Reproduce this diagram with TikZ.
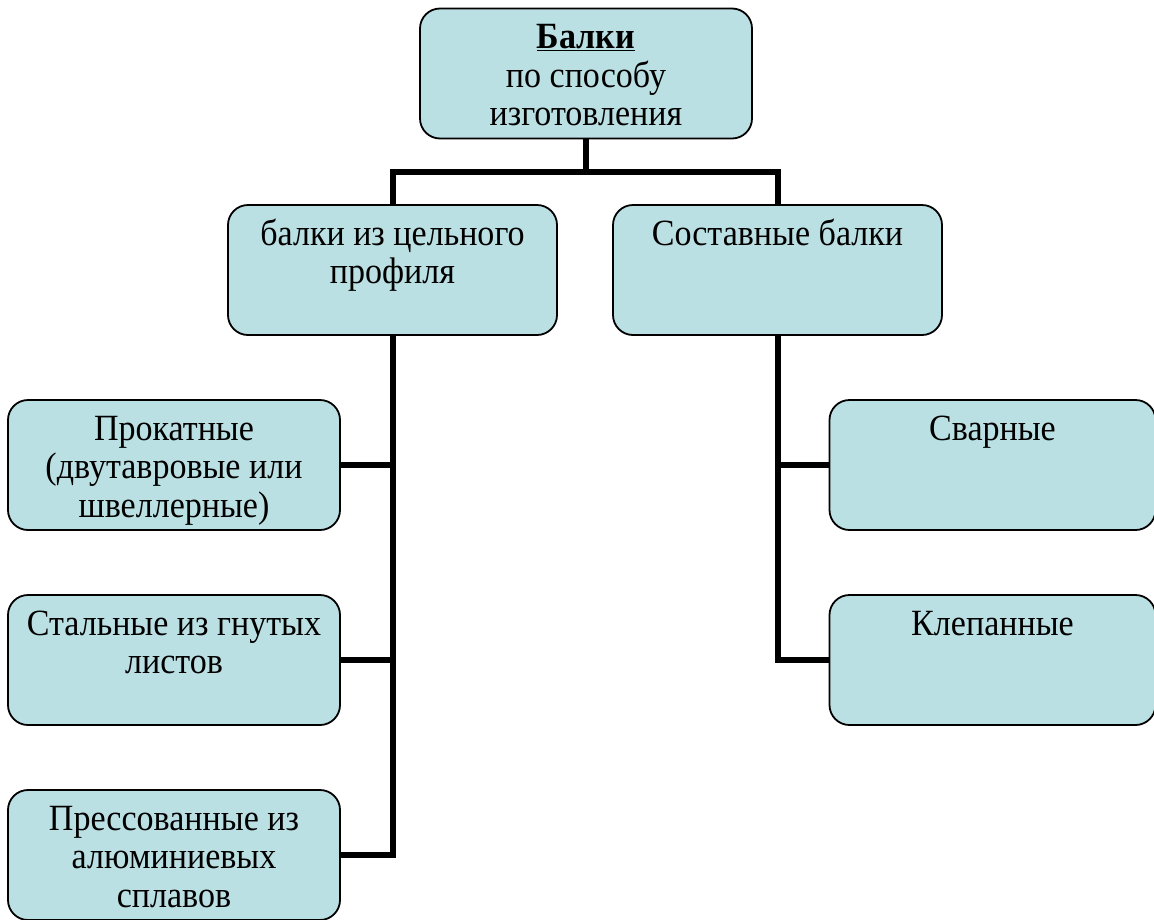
\documentclass[tikz,border=0pt]{standalone}
\usepackage{fontspec}
\setmainfont{Liberation Serif}[FakeStretch=0.92]
\usepackage{tikz}
\usetikzlibrary{positioning,calc}
\definecolor{colorbox}  {RGB}{187,224,227}
\definecolor{colorline} {RGB}{  0,  0,  0}
\newcommand{\boxtext}[1]{\parbox[t][122pt][t]{318pt}{\centering\rule{0pt}{36pt}#1}}

\begin{document}
\begin{tikzpicture}[
    x=1pt, y=-1pt,
    box/.style={draw=colorline, line width=1.8pt, rounded corners=20pt, fill=colorbox,
        minimum width=330pt, minimum height=130pt, inner sep=4pt,
        font={\fontsize{37pt}{38.5pt}\selectfont}},
    link/.style={draw=colorline, line width=6pt}
]
    \useasboundingbox (0,0) rectangle (1154,919);
    \clip (0,0) rectangle (1154,919);

    % Top
    \node[box, minimum width=332pt] (top) at (586,73.5) {\boxtext{\underline{\textbf{Балки}}\\по способу\\изготовления}};

    % Second level
    \node[box, minimum width=329pt] (solid) at (392.5,270) {\boxtext{балки из цельного\\профиля}};
    \node[box, minimum width=329pt] (built) at (777.5,270) {\boxtext{Составные балки}};

    % Left children
    \node[box, minimum width=332pt] (rolled) at (174,465) {\boxtext{Прокатные\\(двутавровые или\\швеллерные)}};
    \node[box, minimum width=332pt] (bent) at (174,660) {\boxtext{Стальные из гнутых\\листов}};
    \node[box, minimum width=332pt] (pressed) at (174,855) {\boxtext{Прессованные из\\алюминиевых\\сплавов}};

    % Right children
    \node[box, minimum width=321pt] (welded) at (992.5,465) {\boxtext{Сварные}};
    \node[box, minimum width=321pt] (riveted) at (992.5,660) {\boxtext{Клепанные}};

    % Links from top
    \draw[link] (top.south) -- ++(0,33) coordinate (fork);
    \draw[link] (fork) -| (solid.north);
    \draw[link] (fork) -| (built.north);

    % Links to left children
    \draw[link] (solid.south) |- (rolled.east);
    \draw[link] (solid.south) |- (bent.east);
    \draw[link] (solid.south) |- (pressed.east);

    % Links to right children
    \draw[link] (built.south) |- (welded.west);
    \draw[link] (built.south) |- (riveted.west);

\end{tikzpicture}
\end{document}
